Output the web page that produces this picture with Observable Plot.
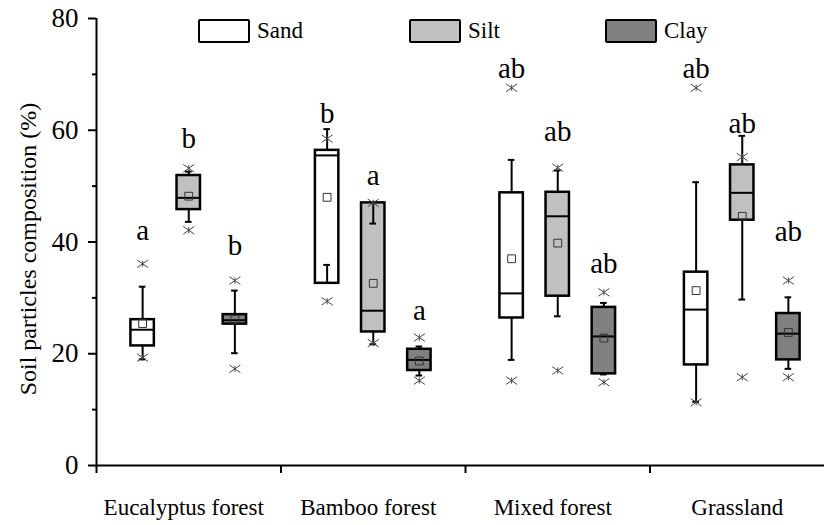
<!DOCTYPE html>
<html>
<head>
<meta charset="utf-8">
<script src="https://cdn.jsdelivr.net/npm/d3@7"></script>
<script src="https://cdn.jsdelivr.net/npm/@observablehq/plot@0.6"></script>
<style>
  body { margin: 0; background: #fff; }
  #wrap { position: relative; width: 824px; height: 525px; font-family: "Liberation Serif", serif; }
  .sw { position: absolute; width: 48px; height: 20px; border: 2px solid #000; border-radius: 2px; }
  .lt { position: absolute; font-size: 23px; line-height: 24px; color: #000; }
</style>
</head>
<body>
<div id="wrap"></div>
<script>
// ---- data ----
const groups = ["Eucalyptus forest", "Bamboo forest", "Mixed forest", "Grassland"];
const fractions = ["Sand", "Silt", "Clay"];
const fills = ["#ffffff", "#c0c0c0", "#808080"];

// order: for each group -> Sand, Silt, Clay
const q1         = [21.4, 45.8, 25.3,  32.6, 23.9, 17.0,  26.4, 30.3, 16.4,  18.0, 43.9, 18.9];
const q3         = [26.1, 51.9, 27.0,  56.4, 47.0, 20.8,  48.8, 48.9, 28.3,  34.6, 53.8, 27.2];
const median     = [24.3, 47.9, 26.0,  55.5, 27.7, 18.9,  30.8, 44.6, 23.1,  27.9, 48.8, 23.6];
const mean       = [25.4, 48.2, 26.2,  48.0, 32.6, 18.7,  37.0, 39.8, 22.8,  31.3, 44.6, 23.8];
const whiskerLow = [19.0, 43.6, 20.1,  35.9, 21.7, 16.1,  18.9, 26.7, 16.3,  11.4, 29.7, 17.3];
const whiskerHigh= [32.0, 52.6, 31.3,  60.2, 43.3, 21.3,  54.7, 52.8, 29.1,  50.7, 59.0, 30.1];
const minStar    = [19.3, 42.1, 17.3,  29.4, 21.9, 15.2,  15.2, 17.0, 14.9,  11.3, 15.8, 15.8];
const maxStar    = [36.1, 53.2, 33.1,  58.5, 47.0, 22.9,  67.6, 53.3, 31.0,  67.6, 55.2, 33.1];
const letters    = ["a", "b", "b",  "b", "a", "a",  "ab", "ab", "ab",  "ab", "ab", "ab"];
const letterY    = [42.1, 58.5, 39.4,  63.0, 51.9, 27.7,  71.1, 59.7, 36.1,  71.1, 61.2, 41.8];
const yTicks = [0, 20, 40, 60, 80];
const yMinor = [10, 30, 50, 70];

// ---- build table ----
const rows = q1.map((_, i) => {
  const g = Math.floor(i / 3), k = i % 3;
  return {
    group: groups[g], fraction: fractions[k], fill: fills[k],
    pos: g + 0.5 + (k - 1) * 0.25,
    q1: q1[i], q3: q3[i], median: median[i], mean: mean[i],
    lo: whiskerLow[i], hi: whiskerHigh[i], mn: minStar[i], mx: maxStar[i],
    letter: letters[i], ly: letterY[i]
  };
});

const bw = 0.0635;   // half box width (group units)
const cw = 0.018;    // half cap width
const font = "Liberation Serif";

// Origin-style star: a wide "x" with a short vertical stroke
const star = {
  draw(context, size) {
    const r = Math.sqrt(size / Math.PI) * 1.1;
    const h = r * 0.7;
    context.moveTo(-r, -h); context.lineTo(r, h);
    context.moveTo(-r, h); context.lineTo(r, -h);
    context.moveTo(0, -h * 0.8); context.lineTo(0, h * 0.8);
  }
};

const chart = Plot.plot({
  width: 824, height: 525,
  marginLeft: 96, marginRight: 0, marginTop: 18, marginBottom: 60,
  style: { fontFamily: font, fontSize: "23px", color: "#000", background: "transparent" },
  x: { type: "linear", domain: [0, 728 / 184.5] },
  y: { domain: [0, 80] },
  marks: [
    // boxes
    Plot.rect(rows, { x1: d => d.pos - bw, x2: d => d.pos + bw, y1: "q1", y2: "q3",
      fill: "fill", stroke: "#000", strokeWidth: 2.5 }),
    // whiskers
    Plot.ruleX(rows, { x: "pos", y1: "q3", y2: "hi", stroke: "#000", strokeWidth: 2 }),
    Plot.ruleX(rows, { x: "pos", y1: "q1", y2: "lo", stroke: "#000", strokeWidth: 2 }),
    Plot.ruleY(rows, { y: "hi", x1: d => d.pos - cw, x2: d => d.pos + cw, stroke: "#000", strokeWidth: 2 }),
    Plot.ruleY(rows, { y: "lo", x1: d => d.pos - cw, x2: d => d.pos + cw, stroke: "#000", strokeWidth: 2 }),
    // median
    Plot.ruleY(rows, { y: "median", x1: d => d.pos - bw, x2: d => d.pos + bw, stroke: "#000", strokeWidth: 2 }),
    // mean
    Plot.dot(rows, { x: "pos", y: "mean", symbol: "square", r: 4.4, fill: "none", stroke: "#333", strokeWidth: 1 }),
    // min / max stars
    Plot.dot(rows, { x: "pos", y: "mx", symbol: star, r: 5, stroke: "#444", strokeWidth: 1 }),
    Plot.dot(rows, { x: "pos", y: "mn", symbol: star, r: 5, stroke: "#444", strokeWidth: 1 }),
    // significance letters
    Plot.text(rows, { x: "pos", y: "ly", text: "letter", fontSize: 29, fill: "#000", lineAnchor: "middle" }),
    // axes
    Plot.ruleX([0], { stroke: "#000", strokeWidth: 2 }),
    Plot.ruleY([0], { stroke: "#000", strokeWidth: 2 }),
    Plot.axisY(yTicks, { tickSize: 8, tickPadding: 10, strokeWidth: 2, fontSize: 27, label: null }),
    Plot.axisY(yMinor, { tickSize: 4, strokeWidth: 2, tickFormat: () => "", label: null }),
    Plot.axisX([0, 1, 2, 3], { tickSize: 8, strokeWidth: 2, tickFormat: () => "", label: null }),
    Plot.axisX(groups.map((_, i) => i + 0.5), { tickSize: 0, tickPadding: 33, fontSize: 23, dx: -5,
      tickFormat: d => groups[Math.floor(d)], label: null }),
    Plot.text(["Soil particles composition (%)"], { frameAnchor: "left", textAnchor: "middle",
      lineAnchor: "middle", dx: -68, dy: 7, rotate: -90, fontSize: 24, fill: "#000" })
  ]
});

const wrap = document.getElementById("wrap");
wrap.appendChild(chart);

// legend drawn inside the plot area, as in the reference
const legendLeft = [198, 409, 605];
fractions.forEach((f, k) => {
  const sw = document.createElement("div");
  sw.className = "sw";
  sw.style.left = legendLeft[k] + "px";
  sw.style.top = "19px";
  sw.style.background = fills[k];
  wrap.appendChild(sw);
  const t = document.createElement("div");
  t.className = "lt";
  t.style.left = (legendLeft[k] + 59) + "px";
  t.style.top = "19px";
  t.textContent = f;
  wrap.appendChild(t);
});
chart.style.position = "absolute";
chart.style.left = "0px";
chart.style.top = "0px";
</script>
</body>
</html>
